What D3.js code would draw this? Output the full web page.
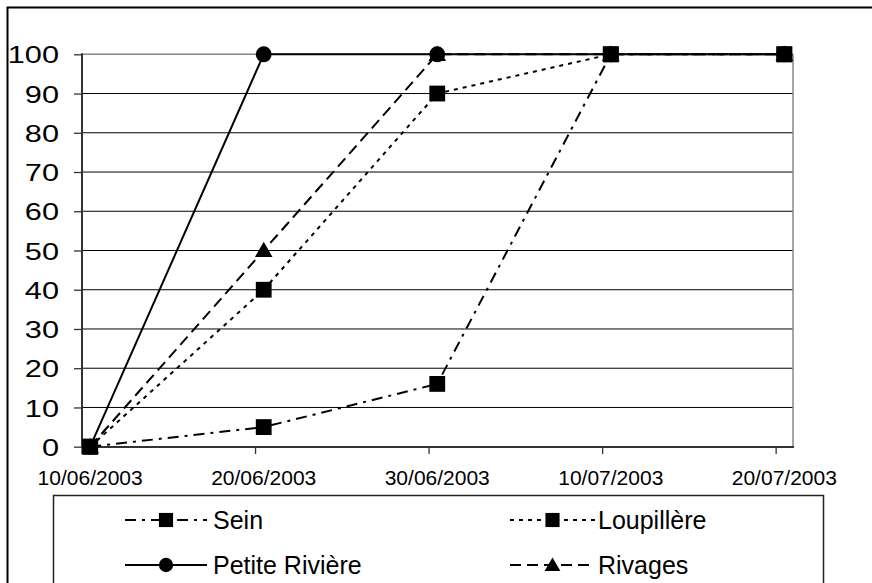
<!DOCTYPE html>
<html><head><meta charset="utf-8">
<script src="https://cdn.jsdelivr.net/npm/d3@7"></script>
<style>body{margin:0;background:#fff;overflow:hidden} svg{display:block;font-family:"Liberation Sans",Arial,sans-serif}</style>
</head><body><svg id="c" width="872" height="583"></svg>
<script>
const dates = ["2003-06-10","2003-06-20","2003-06-30","2003-07-10","2003-07-20"];
const tickLabels = ["10/06/2003","20/06/2003","30/06/2003","10/07/2003","20/07/2003"];
const yTicks = [0,10,20,30,40,50,60,70,80,90,100];
const seriesNames = ["Sein","Loupillère","Petite Rivière","Rivages"];
const sein = [0,5,16,100,100];
const loupillere = [0,40,90,100,100];
const petiteRiviere = [0,100,100,100,100];
const rivages = [0,50,100,100,100];

const svg = d3.select("#c");
const parse = d3.utcParse("%Y-%m-%d");
const dayMs = 864e5;
const xDates = dates.map(parse);
const x = d3.scaleUtc().domain([parse("2003-06-10"), parse("2003-07-21")]).range([81.5, 793]);
const y = d3.scaleLinear().domain([0,100]).range([446.7, 54.3]);
const mid = d => new Date(d.getTime() + dayMs/2);

// outer border
svg.append("rect").attr("x",7.5).attr("y",7.5).attr("width",880).attr("height",620)
  .attr("fill","none").attr("stroke","#000").attr("stroke-width",2);

// gridlines
svg.append("g").selectAll("line").data(yTicks.filter(t=>t>0&&t<100)).join("line")
  .attr("x1",82).attr("x2",793).attr("y1",d=>y(d)).attr("y2",d=>y(d))
  .attr("stroke","#000").attr("stroke-width",1);
svg.append("line").attr("x1",82).attr("x2",793).attr("y1",y(100)).attr("y2",y(100)).attr("stroke","#888").attr("stroke-width",1.5);
svg.append("line").attr("x1",793).attr("x2",793).attr("y1",y(100)).attr("y2",y(0)).attr("stroke","#888").attr("stroke-width",1.5);

// y axis
const yAxis = d3.axisLeft(y).tickValues(yTicks).tickSize(8).tickPadding(0).tickFormat(d3.format("d"));
const gy = svg.append("g").attr("transform","translate(82,0)").call(yAxis);
gy.select(".domain").remove();
gy.selectAll(".tick line").attr("stroke","#333").attr("stroke-width",1.3);
gy.selectAll(".tick text").remove();
gy.selectAll(".tick").append("text").text(d=>d)
  .attr("transform","translate(-23,0) scale(1.28,1)")
  .attr("text-anchor","end").attr("dy","0.36em")
  .attr("font-size",24).attr("fill","#000");
svg.append("line").attr("x1",82).attr("x2",82).attr("y1",y(100)-1).attr("y2",y(0)+1).attr("stroke","#333").attr("stroke-width",2);

// x axis
const xAxis = d3.axisBottom(x).tickValues(xDates).tickSize(7).tickFormat("");
const gx = svg.append("g").attr("transform","translate(0,447)").call(xAxis);
gx.select(".domain").remove();
gx.selectAll(".tick line").attr("stroke","#333").attr("stroke-width",1.3);
svg.append("line").attr("x1",81).attr("x2",794).attr("y1",447).attr("y2",447).attr("stroke","#333").attr("stroke-width",2);
svg.append("g").selectAll("text").data(xDates).join("text")
  .attr("x",d=>x(mid(d))).attr("y",485).attr("text-anchor","middle")
  .attr("font-size",21).attr("fill","#000").text((d,i)=>tickLabels[i]);

// series
const styles = {
  "Sein": {vals: sein, dash: "11,6,3,6", marker: "square"},
  "Loupillère": {vals: loupillere, dash: "4,5", marker: "square"},
  "Petite Rivière": {vals: petiteRiviere, dash: null, marker: "circle"},
  "Rivages": {vals: rivages, dash: "11,6", marker: "triangle"}
};
const symType = {square: d3.symbolSquare, circle: d3.symbolCircle, triangle: d3.symbolTriangle};
const symSize = {square: 250, circle: 200, triangle: 135};
const line = d3.line().x(d=>x(mid(d.date))).y(d=>y(d.v));
const drawOrder = ["Rivages","Petite Rivière","Sein","Loupillère"];
const gs = svg.append("g");
drawOrder.forEach(name=>{
  const s = styles[name];
  const pts = xDates.map((d,i)=>({date:d, v:s.vals[i]}));
  gs.append("path").datum(pts).attr("d",line).attr("fill","none")
    .attr("stroke","#000").attr("stroke-width",2).attr("stroke-dasharray",s.dash);
  gs.append("g").selectAll("path").data(pts).join("path")
    .attr("d", d3.symbol().type(symType[s.marker]).size(symSize[s.marker]))
    .attr("transform",d=>`translate(${x(mid(d.date))},${y(d.v) + (s.marker==="triangle"? 1.5:0)})`)
    .attr("fill","#000");
});

// legend
svg.append("rect").attr("x",53.5).attr("y",495.5).attr("width",770).attr("height",120)
  .attr("fill","none").attr("stroke","#222").attr("stroke-width",1.5);
const legendPos = {
  "Sein": {x0:125, x1:207, y:520, tx:213},
  "Loupillère": {x0:510, x1:595, y:520, tx:598},
  "Petite Rivière": {x0:125, x1:207, y:565, tx:213},
  "Rivages": {x0:510, x1:595, y:565, tx:598}
};
const lg = svg.append("g");
seriesNames.forEach(name=>{
  const p = legendPos[name], s = styles[name];
  lg.append("line").attr("x1",p.x0).attr("x2",p.x1).attr("y1",p.y).attr("y2",p.y)
    .attr("stroke","#000").attr("stroke-width",2).attr("stroke-dasharray",s.dash);
  lg.append("path").attr("d", d3.symbol().type(symType[s.marker]).size(symSize[s.marker]*0.8))
    .attr("transform",`translate(${(p.x0+p.x1)/2},${p.y + (s.marker==="triangle"?1.5:0)})`).attr("fill","#000");
  lg.append("text").attr("x",p.tx).attr("y",p.y+9).attr("font-size",25).attr("fill","#000").text(name);
});
</script></body></html>
